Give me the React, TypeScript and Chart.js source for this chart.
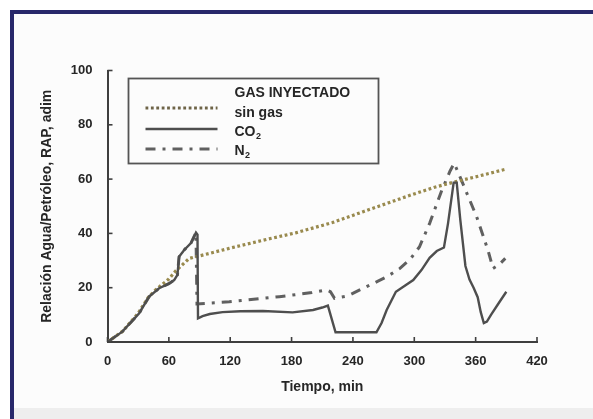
import React, { useEffect, useRef } from "react";
import { Chart, registerables } from "chart.js";

Chart.register(...registerables);

// ---- data ----
const X_MIN = 0;
const X_MAX = 420;
const X_STEP = 60;
const Y_MIN = 0;
const Y_MAX = 100;
const Y_STEP = 20;

const xTitle = "Tiempo, min";
const yTitle = "Relación Agua/Petróleo, RAP, adim";
const legendTitle = "GAS INYECTADO";

const sinGasTime = [0, 15, 30, 40, 48, 60, 67, 80, 93, 119, 150, 184, 220, 250, 275, 298, 320, 340, 365, 389];
const sinGasRap = [0, 4, 10.6, 16.5, 19.5, 23.2, 26.3, 30.8, 32, 34.5, 37.3, 40.2, 44, 48, 51.3, 54.3, 57, 59, 61.3, 63.6];

const co2Time = [0, 14.5, 31, 40.7, 50.5, 60, 65.2, 68.4, 70, 75, 81.6, 86.5, 88, 88.5, 93, 100, 112.5, 130, 152, 181, 201, 210, 215.5, 223, 263, 268, 273, 282, 290, 299, 307, 315, 322, 329, 333, 338.5, 341.5, 345, 350, 354, 358, 362, 365, 368, 371, 375, 382, 390];
const co2Rap = [0, 3.8, 10.6, 16.7, 19.8, 21.5, 22.8, 24.7, 31.4, 33.9, 36.4, 40.3, 39.5, 8.7, 9.5, 10.3, 11, 11.3, 11.4, 10.9, 11.8, 12.7, 13.4, 3.6, 3.6, 7, 11.8, 18.5, 20.5, 22.8, 26.5, 31, 33.5, 34.8, 43.7, 58.7, 58.7, 45, 28, 23, 20, 16.5, 11, 7, 7.5, 10, 14, 18.5];

const n2Time = [0, 14.5, 31, 40.7, 50.5, 60, 65.2, 68.4, 70, 75, 81.6, 86.5, 87.5, 95, 119, 150, 168, 200, 214, 218, 222, 235, 250, 265, 273, 286, 296, 305, 315, 327, 335, 339, 346, 361, 372, 377, 383, 389];
const n2Rap = [0, 3.8, 10.6, 16.7, 19.8, 21.5, 22.8, 24.7, 31.4, 33.9, 36.4, 40.3, 14, 14.2, 14.8, 16, 16.7, 18.2, 19.2, 18.5, 16.1, 17, 19.8, 22.5, 24, 27.1, 30.5, 35, 43.7, 56, 63, 65.8, 59.7, 46.1, 33.9, 27.1, 28.5, 30.8];

const seriesLabels = ["sin gas", "CO₂", "N₂"];

// ---- styles ----
const FONT = '"Liberation Sans", Arial, sans-serif';
const TEXT_COLOR = "#262626";
const AXIS_COLOR = "#3f3f3f";
const NAVY = "#28286a";

const toPoints = (xs: number[], ys: number[]) => xs.map((x, i) => ({ x, y: ys[i] }));

const drawLabel = (ctx: CanvasRenderingContext2D, text: string, x: number, y: number) => {
  if (text.endsWith("₂")) {
    const base = text.slice(0, -1);
    ctx.font = `bold 14px ${FONT}`;
    ctx.fillText(base, x, y);
    const w = ctx.measureText(base).width;
    ctx.font = `bold 9px ${FONT}`;
    ctx.fillText("2", x + w + 0.5, y + 3);
  } else {
    ctx.font = `bold 14px ${FONT}`;
    ctx.fillText(text, x, y);
  }
};

const inwardTicks = {
  id: "inwardTicks",
  afterDatasetsDraw(chart: any) {
    const { ctx, chartArea, scales } = chart;
    const xs = scales.x;
    const ys = scales.y;
    ctx.save();
    ctx.strokeStyle = AXIS_COLOR;
    ctx.lineWidth = 1.6;
    xs.ticks.forEach((t: any) => {
      const px = xs.getPixelForValue(t.value);
      ctx.beginPath();
      ctx.moveTo(px, chartArea.bottom);
      ctx.lineTo(px, chartArea.bottom - 5);
      ctx.stroke();
    });
    ys.ticks.forEach((t: any) => {
      const py = ys.getPixelForValue(t.value);
      ctx.beginPath();
      ctx.moveTo(chartArea.left, py);
      ctx.lineTo(chartArea.left + 5, py);
      ctx.stroke();
    });
    ctx.restore();
  },
};

const boxLegend = {
  id: "boxLegend",
  afterDraw(chart: any) {
    const { ctx, chartArea } = chart;
    const left = chartArea.left + 21;
    const top = chartArea.top + 8;
    const width = 250;
    const height = 85;
    ctx.save();
    ctx.strokeStyle = "#555555";
    ctx.lineWidth = 1.8;
    ctx.strokeRect(left, top, width, height);
    ctx.fillStyle = TEXT_COLOR;
    ctx.textBaseline = "alphabetic";
    ctx.textAlign = "left";
    const textX = left + 106;
    ctx.font = `bold 14px ${FONT}`;
    ctx.fillText(legendTitle, textX, top + 18.5);
    const baselines = [top + 38, top + 57, top + 76];
    const sampleOffsets = [-8.5, -6.5, -5.5];
    chart.data.datasets.forEach((ds: any, i: number) => {
      const yLine = baselines[i] + sampleOffsets[i];
      ctx.save();
      ctx.strokeStyle = i === 0 ? "#6e6448" : ds.borderColor;
      ctx.lineWidth = ds.borderWidth;
      ctx.setLineDash(ds.borderDash || []);
      ctx.lineCap = "butt";
      ctx.beginPath();
      ctx.moveTo(left + 17, yLine);
      ctx.lineTo(left + 89, yLine);
      ctx.stroke();
      ctx.restore();
      ctx.fillStyle = TEXT_COLOR;
      drawLabel(ctx, ds.label, textX, baselines[i]);
    });
    ctx.restore();
  },
};

export default function App() {
  const canvasRef = useRef<HTMLCanvasElement | null>(null);

  useEffect(() => {
    if (!canvasRef.current) return;
    const chart = new Chart(canvasRef.current, {
      type: "line",
      data: {
        datasets: [
          {
            label: seriesLabels[0],
            data: toPoints(sinGasTime, sinGasRap),
            borderColor: "#998a4e",
            borderWidth: 3.2,
            borderDash: [2.8, 2.6],
            pointRadius: 0,
            tension: 0,
            fill: false,
            order: 1,
          },
          {
            label: seriesLabels[1],
            data: toPoints(co2Time, co2Rap),
            borderColor: "#4e4e4e",
            borderWidth: 2.4,
            pointRadius: 0,
            tension: 0,
            fill: false,
            order: 0,
          },
          {
            label: seriesLabels[2],
            data: toPoints(n2Time, n2Rap),
            borderColor: "#606060",
            borderWidth: 3,
            borderDash: [10, 7, 3, 7],
            pointRadius: 0,
            tension: 0,
            fill: false,
            order: 2,
          },
        ],
      },
      options: {
        responsive: false,
        animation: false,
        devicePixelRatio: 1,
        layout: { padding: { left: 0, top: 70.5, right: 56, bottom: 0 } },
        plugins: {
          legend: { display: false },
          tooltip: { enabled: false },
          title: { display: false },
        },
        scales: {
          x: {
            type: "linear",
            min: X_MIN,
            max: X_MAX,
            grid: { display: false, drawTicks: false },
            border: { display: true, color: AXIS_COLOR, width: 2 },
            ticks: {
              stepSize: X_STEP,
              padding: 12,
              color: TEXT_COLOR,
              font: { family: FONT, size: 13, weight: "bold" },
            },
            title: {
              display: true,
              text: xTitle,
              color: TEXT_COLOR,
              font: { family: FONT, size: 14, weight: "bold" },
              padding: { top: 0, bottom: 23 },
            },
            afterFit: (s: any) => {
              s.height = 77;
            },
          },
          y: {
            type: "linear",
            min: Y_MIN,
            max: Y_MAX,
            grid: { display: false, drawTicks: false },
            border: { display: true, color: AXIS_COLOR, width: 2 },
            ticks: {
              stepSize: Y_STEP,
              padding: 15,
              color: TEXT_COLOR,
              font: { family: FONT, size: 13, weight: "bold" },
            },
            title: {
              display: true,
              text: yTitle,
              color: TEXT_COLOR,
              font: { family: FONT, size: 14, weight: "bold" },
              padding: { top: 38.5, bottom: 0 },
            },
            afterFit: (s: any) => {
              s.width = 107.5;
            },
          },
        },
      },
      plugins: [inwardTicks, boxLegend],
    } as any);
    return () => chart.destroy();
  }, []);

  return (
    <div style={{ position: "absolute", left: 0, top: 0, width: 593, height: 419, background: "#ffffff", overflow: "hidden" }}>
      <div
        style={{
          position: "absolute",
          left: 10,
          top: 10,
          right: 0,
          bottom: 0,
          borderLeft: `4px solid ${NAVY}`,
          borderTop: `4px solid ${NAVY}`,
          background: "#fcfcfc",
        }}
      />
      <div style={{ position: "absolute", left: 14, top: 408, right: 0, bottom: 0, background: "#eeeeee" }} />
      <canvas ref={canvasRef} width={593} height={419} style={{ position: "absolute", left: 0, top: 0, width: 593, height: 419 }} />
    </div>
  );
}
